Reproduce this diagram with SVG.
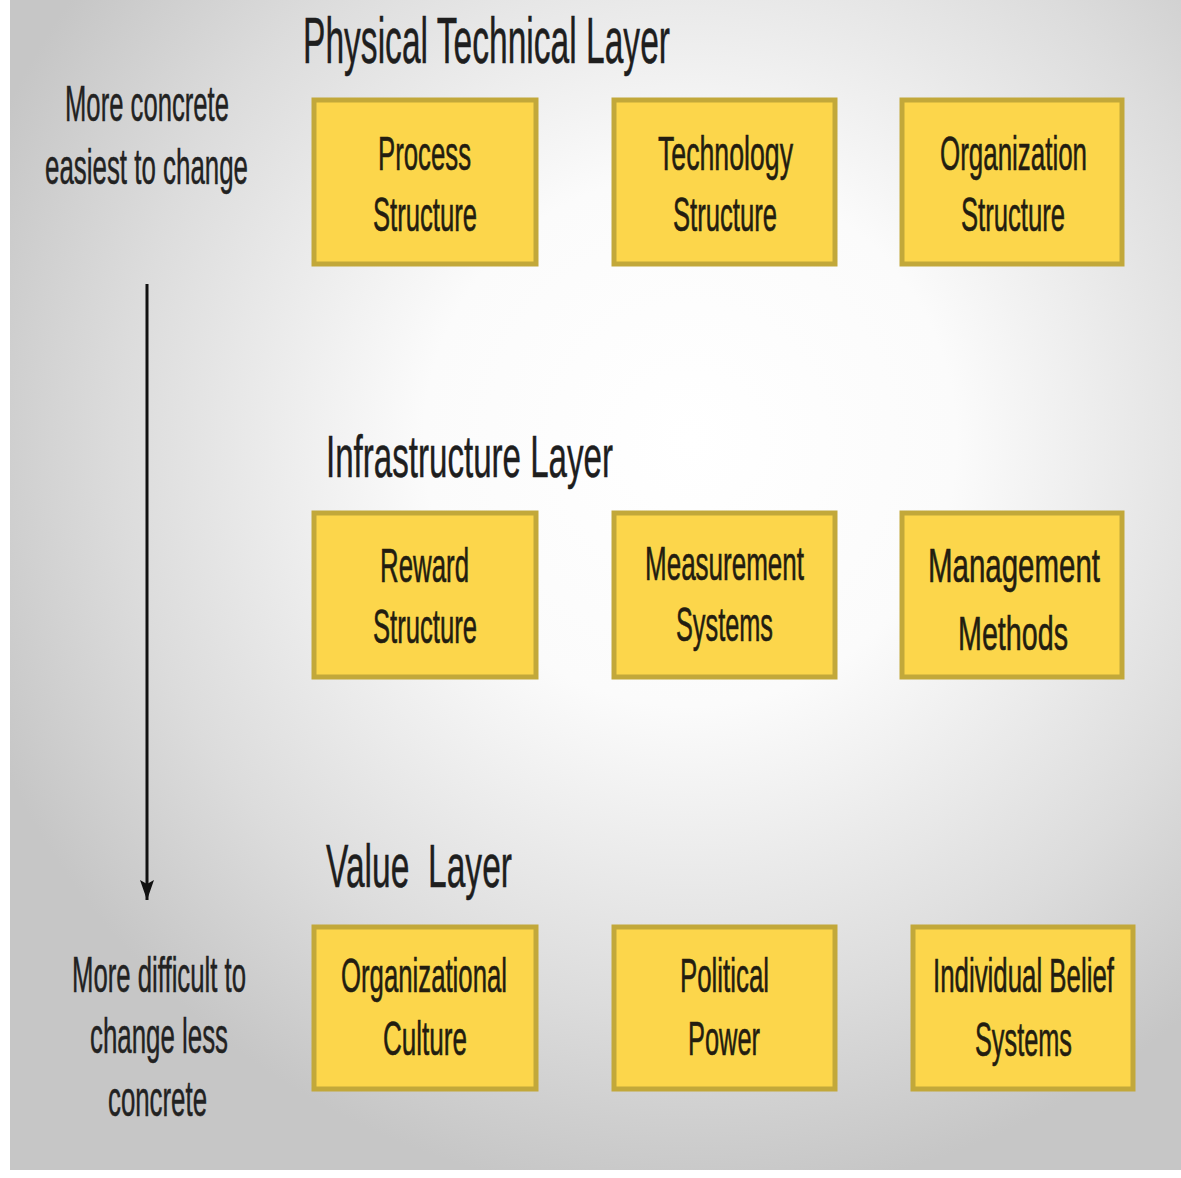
<svg xmlns="http://www.w3.org/2000/svg" width="1181" height="1178" viewBox="0 0 1181 1178">
  <defs>
    <radialGradient id="bg" gradientUnits="userSpaceOnUse" cx="690" cy="440" r="760">
      <stop offset="0" stop-color="#ffffff"/>
      <stop offset="0.35" stop-color="#fbfbfb"/>
      <stop offset="0.75" stop-color="#dcdcdc"/>
      <stop offset="1" stop-color="#c6c6c6"/>
    </radialGradient>
    <marker id="arrow" markerUnits="userSpaceOnUse" markerWidth="22" markerHeight="16" refX="20" refY="8" orient="auto" viewBox="0 0 22 16">
      <path d="M0,1 L20,8 L0,15 L4,8 Z" fill="#111"/>
    </marker>
    <style>
      .box { fill: #fcd64b; stroke: #c2a83a; stroke-width: 5; }
      .bt { font-family: "Liberation Sans", Arial, sans-serif; font-size: 48px; fill: #231d10; stroke: #231d10; stroke-width: 0.6; }
      .lt { font-family: "Liberation Sans", Arial, sans-serif; fill: #1e1e1e; stroke: #1e1e1e; stroke-width: 0.5; }
      .side { font-family: "Liberation Sans", Arial, sans-serif; font-size: 50px; fill: #222; stroke: #222; stroke-width: 0.5; }
    </style>
  </defs>
  <rect x="0" y="0" width="1181" height="1178" fill="#ffffff"/>
  <rect x="10" y="0" width="1171" height="1170" fill="url(#bg)"/>

  <g id="layer-titles">
    <text class="lt" x="303" y="63" font-size="64" textLength="367" lengthAdjust="spacingAndGlyphs">Physical Technical Layer</text>
    <text class="lt" x="326" y="477" font-size="60" textLength="287" lengthAdjust="spacingAndGlyphs">Infrastructure Layer</text>
    <text class="lt" x="326" y="887" font-size="62" textLength="186" lengthAdjust="spacingAndGlyphs" xml:space="preserve">Value  Layer</text>
  </g>

  <g id="side-labels">
    <text class="side" x="65" y="121" textLength="164" lengthAdjust="spacingAndGlyphs">More concrete</text>
    <text class="side" x="45" y="184" textLength="203" lengthAdjust="spacingAndGlyphs">easiest to change</text>
    <text class="side" x="72" y="992" textLength="174" lengthAdjust="spacingAndGlyphs">More difficult to</text>
    <text class="side" x="90" y="1053" textLength="138" lengthAdjust="spacingAndGlyphs">change less</text>
    <text class="side" x="108" y="1116" textLength="99" lengthAdjust="spacingAndGlyphs">concrete</text>
  </g>

  <g id="connectors">
    <line x1="147" y1="284" x2="147" y2="900" stroke="#111" stroke-width="3" marker-end="url(#arrow)"/>
  </g>

  <g id="process-structure">
    <rect class="box" x="314" y="100" width="222" height="164"/>
    <text class="bt" x="378" y="170" textLength="93" lengthAdjust="spacingAndGlyphs">Process</text>
    <text class="bt" x="373" y="231" textLength="104" lengthAdjust="spacingAndGlyphs">Structure</text>
  </g>
  <g id="technology-structure">
    <rect class="box" x="614" y="100" width="221" height="164"/>
    <text class="bt" x="658" y="170" textLength="135" lengthAdjust="spacingAndGlyphs">Technology</text>
    <text class="bt" x="673" y="231" textLength="104" lengthAdjust="spacingAndGlyphs">Structure</text>
  </g>
  <g id="organization-structure">
    <rect class="box" x="902" y="100" width="220" height="164"/>
    <text class="bt" x="940" y="170" textLength="147" lengthAdjust="spacingAndGlyphs">Organization</text>
    <text class="bt" x="961" y="231" textLength="104" lengthAdjust="spacingAndGlyphs">Structure</text>
  </g>

  <g id="reward-structure">
    <rect class="box" x="314" y="513" width="222" height="164"/>
    <text class="bt" x="380" y="582" textLength="89" lengthAdjust="spacingAndGlyphs">Reward</text>
    <text class="bt" x="373" y="643" textLength="104" lengthAdjust="spacingAndGlyphs">Structure</text>
  </g>
  <g id="measurement-systems">
    <rect class="box" x="614" y="513" width="221" height="164"/>
    <text class="bt" x="645" y="580" textLength="159" lengthAdjust="spacingAndGlyphs">Measurement</text>
    <text class="bt" x="676" y="641" textLength="97" lengthAdjust="spacingAndGlyphs">Systems</text>
  </g>
  <g id="management-methods">
    <rect class="box" x="902" y="513" width="220" height="164"/>
    <text class="bt" x="928" y="582" font-size="58" textLength="172" lengthAdjust="spacingAndGlyphs">Management</text>
    <text class="bt" x="958" y="650" font-size="56" textLength="110" lengthAdjust="spacingAndGlyphs">Methods</text>
  </g>

  <g id="organizational-culture">
    <rect class="box" x="314" y="927" width="222" height="162"/>
    <text class="bt" x="341" y="992" textLength="166" lengthAdjust="spacingAndGlyphs">Organizational</text>
    <text class="bt" x="383" y="1055" textLength="84" lengthAdjust="spacingAndGlyphs">Culture</text>
  </g>
  <g id="political-power">
    <rect class="box" x="614" y="927" width="221" height="162"/>
    <text class="bt" x="680" y="992" textLength="89" lengthAdjust="spacingAndGlyphs">Political</text>
    <text class="bt" x="688" y="1055" textLength="72" lengthAdjust="spacingAndGlyphs">Power</text>
  </g>
  <g id="individual-belief-systems">
    <rect class="box" x="913" y="927" width="220" height="162"/>
    <text class="bt" x="933" y="992" textLength="181" lengthAdjust="spacingAndGlyphs">Individual Belief</text>
    <text class="bt" x="975" y="1056" textLength="97" lengthAdjust="spacingAndGlyphs">Systems</text>
  </g>
</svg>
